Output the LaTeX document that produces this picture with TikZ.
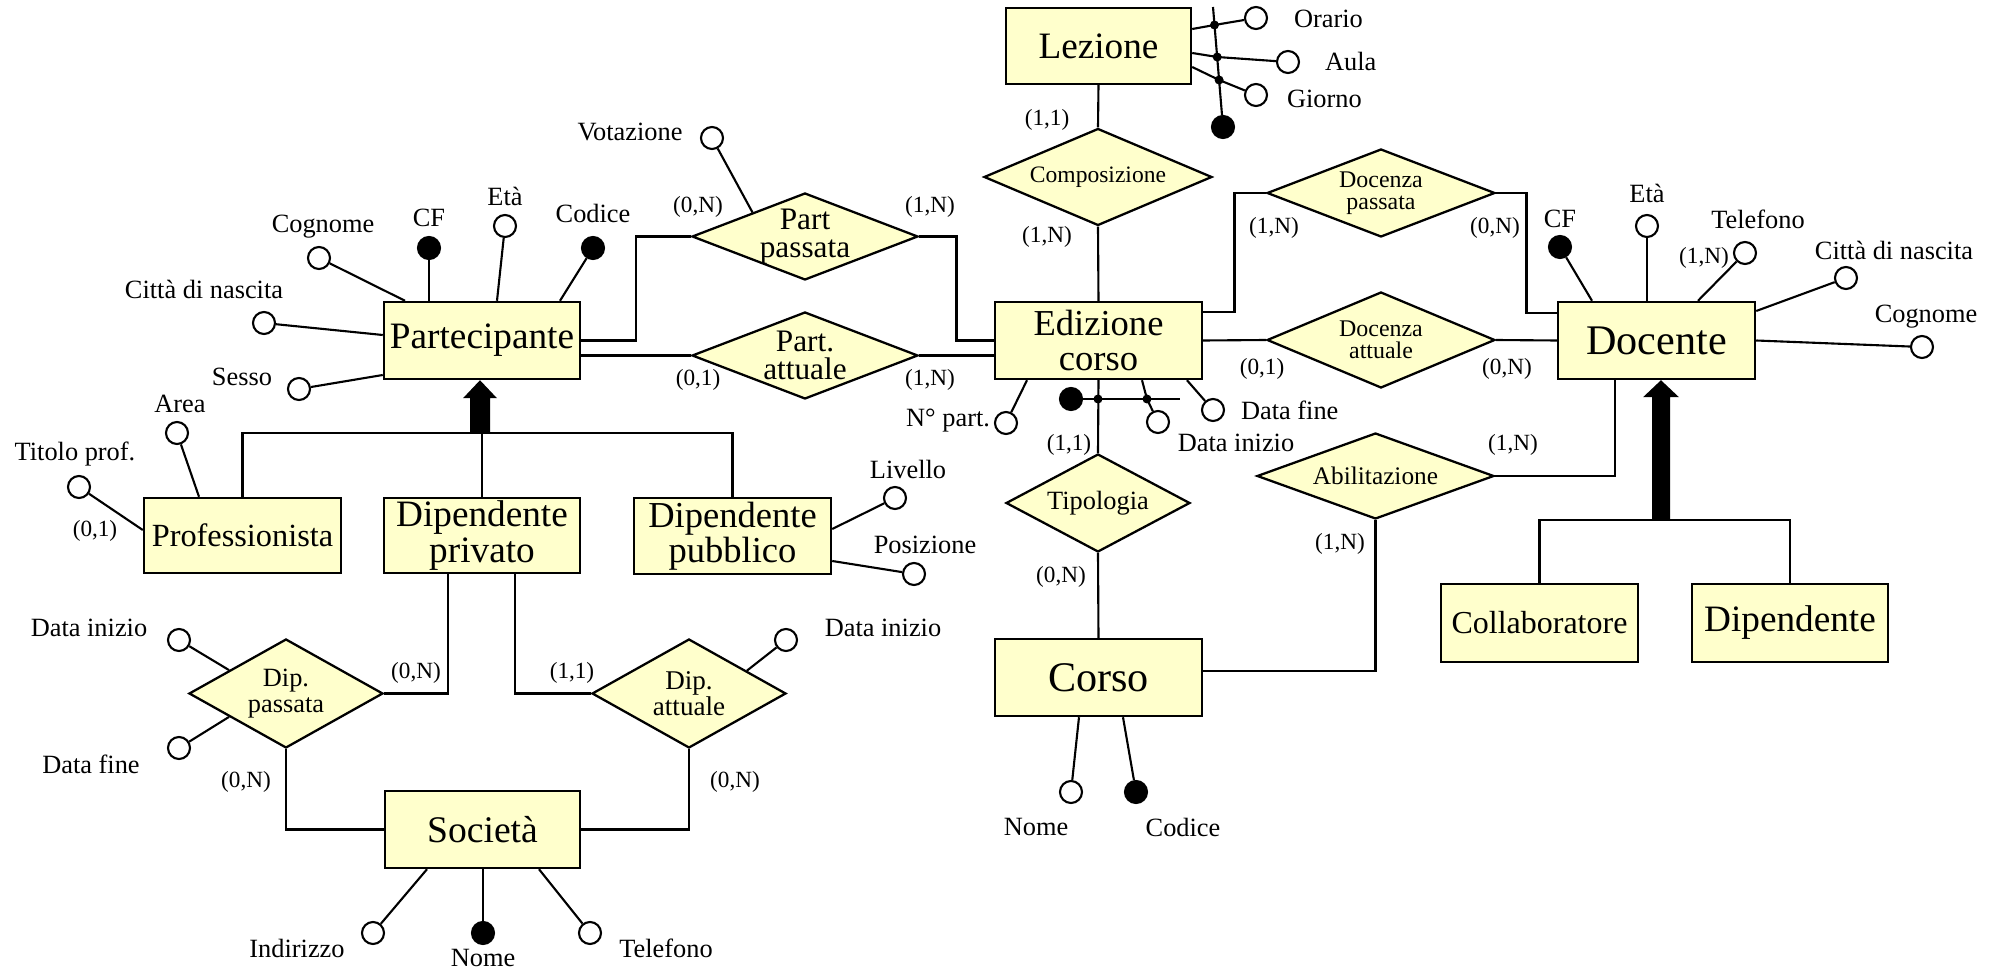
\documentclass[tikz,border=0pt]{standalone}
\usepackage{fontspec}
\setmainfont{Liberation Serif}
\usetikzlibrary{shapes.geometric,calc}
\definecolor{erfill}{HTML}{FFFFCC}
\newcommand\fsz[1]{\fontsize{#1}{#1}\selectfont}
\newcommand\fszz[2]{\fontsize{#1}{#2}\selectfont}

\tikzset{
  ent/.style={draw, fill=erfill, line width=0.7pt, inner sep=0pt, align=center},
  rel/.style={diamond, draw, fill=erfill, line width=0.65pt, inner sep=0pt},
  rtext/.style={inner sep=0pt, align=center},
  att/.style={circle, draw, fill=white, line width=0.6pt, minimum size=2.2mm, inner sep=0pt},
  katt/.style={att, fill=black},
  jdot/.style={circle, fill=black, minimum size=0.9mm, inner sep=0pt},
  lbl/.style={inner sep=0pt, font=\fszz{7.5}{9}},
  card/.style={inner sep=0pt, font=\fszz{6.6}{8}},
}

\begin{document}
\begin{tikzpicture}[x=0.1mm, y=-0.1mm, line width=0.6pt]
\fill[white] (0,0) rectangle (2000,972);
\useasboundingbox (0,0) rectangle (2000,972);

% ---------- entities ----------
\node[ent, minimum width=18.5mm, minimum height=7.6mm, font=\fsz{10.6}] (lez) at (1098.5,46) {Lezione};
\node[ent, minimum width=20.7mm, minimum height=7.7mm, font=\fszz{10.4}{9.8}] (ed) at (1098.5,340.5) {Edizione\\corso};
\node[ent, minimum width=20.7mm, minimum height=7.7mm, font=\fsz{12}] (corso) at (1098.5,677.5) {Corso};
\node[ent, minimum width=19.7mm, minimum height=7.7mm, font=\fsz{12}] (doc) at (1656.5,340.5) {Docente};
\node[ent, minimum width=19.6mm, minimum height=7.7mm, font=\fsz{10.6}] (part) at (482,340.5) {Partecipante};
\node[ent, minimum width=19.7mm, minimum height=7.5mm, font=\fsz{9.2}] (prof) at (242.5,535.5) {Professionista};
\node[ent, minimum width=19.6mm, minimum height=7.5mm, font=\fszz{10.6}{10}] (dpriv) at (482,535.5) {Dipendente\\privato};
\node[ent, minimum width=19.7mm, minimum height=7.6mm, font=\fszz{10.4}{10}] (dpub) at (732.5,536) {Dipendente\\pubblico};
\node[ent, minimum width=19.5mm, minimum height=7.7mm, font=\fsz{10.7}] (soc) at (482.5,829.5) {Società};
\node[ent, minimum width=19.7mm, minimum height=7.8mm, font=\fsz{9.1}] (coll) at (1539.5,623) {Collaboratore};
\node[ent, minimum width=19.6mm, minimum height=7.8mm, font=\fsz{10.6}] (dipe) at (1790,623) {Dipendente};

% ---------- relationships ----------
\node[rel, minimum width=22.8mm, minimum height=9.7mm] (comp) at (1098,177) {};
\node[rtext, font=\fsz{6.7}] at (comp) {Composizione};
\node[rel, minimum width=22.6mm, minimum height=8.7mm] (pp) at (805,236.5) {};
\node[rtext, font=\fszz{8.9}{8.2}] at (pp) {Part\\passata};
\node[rel, minimum width=22.6mm, minimum height=8.7mm] (pa) at (805,355.5) {};
\node[rtext, font=\fszz{8.9}{8.2}] at (pa) {Part.\\attuale};
\node[rel, minimum width=22.8mm, minimum height=8.8mm] (dp) at (1381,193) {};
\node[rtext, font=\fszz{6.8}{6.4}] at (dp) {Docenza\\passata};
\node[rel, minimum width=22.8mm, minimum height=9.6mm] (da) at (1381,340) {};
\node[rtext, font=\fszz{6.8}{6.4}] at (da) {Docenza\\attuale};
\node[rel, minimum width=18.4mm, minimum height=9.8mm] (tip) at (1098,503) {};
\node[rtext, font=\fsz{7.5}] at (tip) {Tipologia};
\node[rel, minimum width=23.7mm, minimum height=8.6mm] (abil) at (1375.5,476) {};
\node[rtext, font=\fsz{7.2}] at (abil) {Abilitazione};
\node[rel, minimum width=19.4mm, minimum height=10.9mm] (dipp) at (286,693.5) {};
\node[rtext, font=\fszz{7.5}{7.2}] at (dipp) {Dip.\\passata};
\node[rel, minimum width=19.4mm, minimum height=10.9mm] (dipa) at (689,693.5) {};
\node[rtext, font=\fszz{7.7}{7.3}] at (dipa) {Dip.\\attuale};

% ---------- relationship connectors ----------
\draw (lez.south) -- (comp.north);
\draw (comp.south) -- (ed.north);
\draw (ed.south) -- (tip.north);
\draw (tip.south) -- (corso.north);
\draw (pp.west) -| ($(part.east)!.5!(pp.west)$) |- (part.east);
\draw (pa.west) -- (pa.west -| part.east);
\draw (pp.east) -| ($(pp.east)!.5!(ed.west)$) |- (ed.west);
\draw (pa.east) -- (pa.east -| ed.west);
\draw (dp.west) -| ($(dp.west)!.5!(ed.east)$) |- ([yshift=2.85mm]ed.east);
\draw (ed.east) -- (da.west);
\draw (dp.east) -| ($(dp.east)!.5!(doc.west)$) |- ([yshift=2.75mm]doc.west);
\draw (da.east) -- (doc.west);
\draw (abil.east) -| ([xshift=-4.15mm]doc.south);
\draw (abil.south) |- ([yshift=0.65mm]corso.east);
\draw ([xshift=-3.4mm]dpriv.south) |- (dipp.east);
\draw ([xshift=3.3mm]dpriv.south) |- (dipa.west);
\draw (dipp.south) |- (soc.west);
\draw (dipa.south) |- (soc.east);

% ---------- generalisations ----------
\coordinate (isaP) at (480,433);
\coordinate (isaPtip) at (isaP |- part.south);
\draw (prof.north) -- (prof.north |- isaP) -- (dpub.north |- isaP) -- (dpub.north);
\draw (dpriv.north) -- (dpriv.north |- isaP);
\fill (isaPtip) -- ([shift={(1.7mm,-1.8mm)}]isaPtip) -- ([shift={(1mm,-1.8mm)}]isaPtip)
  -- ([xshift=1mm]isaP) -- ([xshift=-1mm]isaP) -- ([shift={(-1mm,-1.8mm)}]isaPtip)
  -- ([shift={(-1.7mm,-1.8mm)}]isaPtip) -- cycle;

\coordinate (isaD) at (1661,520);
\coordinate (isaDtip) at (isaD |- doc.south);
\draw (coll.north) -- (coll.north |- isaD) -- (dipe.north |- isaD) -- (dipe.north);
\fill (isaDtip) -- ([shift={(1.8mm,-1.7mm)}]isaDtip) -- ([shift={(0.9mm,-1.7mm)}]isaDtip)
  -- ([xshift=0.9mm]isaD) -- ([xshift=-0.9mm]isaD) -- ([shift={(-0.9mm,-1.7mm)}]isaDtip)
  -- ([shift={(-1.8mm,-1.7mm)}]isaDtip) -- cycle;

% ---------- Lezione attributes ----------
\node[att] (orario) at (1256,18) {};
\node[att] (aula) at (1288,62) {};
\node[att] (giorno) at (1256,95) {};
\node[katt] (lezK) at (1223,127) {};
\coordinate (lzTop) at (1213,7);
\node[jdot] (ld1) at (1214.5,25) {};
\node[jdot] (ld2) at (1217.2,57) {};
\node[jdot] (ld3) at (1219.1,80) {};
\draw (lzTop) -- (lezK);
\draw ([yshift=1.7mm]lez.east) -- (ld1.center) -- (orario);
\draw ([yshift=-0.7mm]lez.east) -- (ld2.center) -- (aula);
\draw ([yshift=-2.1mm]lez.east) -- (ld3.center) -- (giorno);
\node[lbl, anchor=west] at (1293,19) {Orario};
\node[lbl, anchor=west] at (1324,61) {Aula};
\node[lbl, anchor=west] at (1286,99) {Giorno};

% ---------- Edizione corso attributes ----------
\node[att] (npart) at (1006,423) {};
\node[katt] (edK) at (1071,399) {};
\node[jdot] (ed1) at (1098,399) {};
\node[jdot] (ed2) at (1147,399) {};
\coordinate (edE) at (1180,399);
\node[att] (edDi) at (1158,422) {};
\node[att] (edDf) at (1213,410) {};
\draw (edK) -- (edE);
\draw ([xshift=-7.15mm]ed.south) -- (npart);
\draw ([xshift=4.35mm]ed.south) -- (ed2.center) -- (edDi);
\draw ([xshift=8.85mm]ed.south) -- (edDf);
\node[lbl, anchor=east] at (991,421) {N° part.};
\node[lbl] at (1236,443) {Data inizio};
\node[lbl, anchor=west] at (1240,410) {Data fine};

% ---------- Corso attributes ----------
\node[att] (cNome) at (1071,792) {};
\node[katt] (cCod) at (1136,792) {};
\draw ([xshift=-1.95mm]corso.south) -- (cNome);
\draw ([xshift=2.45mm]corso.south) -- (cCod);
\node[lbl] at (1036,827) {Nome};
\node[lbl] at (1183,827) {Codice};

% ---------- Docente attributes ----------
\node[katt] (docCF) at (1560,247) {};
\node[att] (docEta) at (1647,226) {};
\node[att] (docTel) at (1745,253) {};
\node[att] (docCitta) at (1846,278) {};
\node[att] (docCogn) at (1922,347) {};
\draw (docCF) -- ([xshift=-6.45mm]doc.north);
\draw (docEta) -- (docEta |- doc.north);
\draw (docTel) -- ([xshift=4.15mm]doc.north);
\draw (docCitta) -- ([yshift=2.95mm]doc.east);
\draw (docCogn) -- (doc.east);
\node[lbl] at (1560,219) {CF};
\node[lbl] at (1647,193) {Età};
\node[lbl] at (1758,219) {Telefono};
\node[lbl] at (1894,250) {Città di nascita};
\node[lbl] at (1926,317) {Cognome};

% ---------- Partecipante attributes ----------
\node[katt] (pCF) at (429,248) {};
\node[att] (pEta) at (505,226) {};
\node[katt] (pCod) at (593,248) {};
\node[att] (pCogn) at (319,258) {};
\node[att] (pCitta) at (264,323) {};
\node[att] (pSesso) at (299,389) {};
\draw (pCF) -- (pCF |- part.north);
\draw (pEta) -- ([xshift=1.5mm]part.north);
\draw (pCod) -- ([xshift=7.8mm]part.north);
\draw (pCogn) -- ([xshift=-7.7mm]part.north);
\draw (pCitta) -- ([yshift=0.55mm]part.west);
\draw (pSesso) -- ([yshift=-3.45mm]part.west);
\node[lbl] at (429,218) {CF};
\node[lbl] at (505,196) {Età};
\node[lbl] at (593,213) {Codice};
\node[lbl] at (323,227) {Cognome};
\node[lbl] at (204,289) {Città di nascita};
\node[lbl] at (242,377) {Sesso};

% ---------- Part passata attribute ----------
\node[att] (vot) at (712,138) {};
\draw (vot) -- ($(pp.north)!0.46!(pp.west)$);
\node[lbl] at (630,132) {Votazione};

% ---------- Professionista attributes ----------
\node[att] (area) at (177,433) {};
\node[att] (titolo) at (79,487) {};
\draw (area) -- ([xshift=-4.35mm]prof.north);
\draw (titolo) -- ([yshift=0.55mm]prof.west);
\node[lbl] at (180,404) {Area};
\node[lbl] at (75,454) {Titolo prof.};

% ---------- Dipendente pubblico attributes ----------
\node[att] (liv) at (895,498) {};
\node[att] (posz) at (914,574) {};
\draw (liv) -- ([yshift=0.7mm]dpub.east);
\draw (posz) -- ([yshift=-2.5mm]dpub.east);
\node[lbl] at (908,469) {Livello};
\node[lbl] at (925,545) {Posizione};

% ---------- Dip. passata / Dip. attuale attributes ----------
\node[att] (dpDi) at (179,640) {};
\node[att] (dpDf) at (179,748) {};
\node[att] (daDi) at (786,640) {};
\draw (dpDi) -- ($(dipp.west)!0.42!(dipp.north)$);
\draw (dpDf) -- ($(dipp.west)!0.42!(dipp.south)$);
\draw (daDi) -- ($(dipa.east)!0.41!(dipa.north)$);
\node[lbl] at (89,628) {Data inizio};
\node[lbl] at (91,764) {Data fine};
\node[lbl] at (883,628) {Data inizio};

% ---------- Società attributes ----------
\node[att] (sInd) at (373,933) {};
\node[katt] (sNome) at (483,933) {};
\node[att] (sTel) at (590,933) {};
\draw (sInd) -- ([xshift=-5.55mm]soc.south);
\draw (sNome) -- (sNome |- soc.south);
\draw (sTel) -- ([xshift=5.65mm]soc.south);
\node[lbl] at (297,948) {Indirizzo};
\node[lbl] at (483,958) {Nome};
\node[lbl] at (666,948) {Telefono};

% ---------- cardinalities ----------
\node[card] at (1047,120) {(1,1)};
\node[card] at (1047,237) {(1,N)};
\node[card] at (698,207) {(0,N)};
\node[card] at (930,207) {(1,N)};
\node[card] at (698,380) {(0,1)};
\node[card] at (930,380) {(1,N)};
\node[card] at (1274,228) {(1,N)};
\node[card] at (1495,228) {(0,N)};
\node[card] at (1262,369) {(0,1)};
\node[card] at (1507,369) {(0,N)};
\node[card] at (1069,445) {(1,1)};
\node[card] at (1061,577) {(0,N)};
\node[card] at (1513,445) {(1,N)};
\node[card] at (1340,544) {(1,N)};
\node[card] at (416,673) {(0,N)};
\node[card] at (572,673) {(1,1)};
\node[card] at (246,782) {(0,N)};
\node[card] at (735,782) {(0,N)};
\node[card] at (95,531) {(0,1)};
\node[card] at (1704,258) {(1,N)};
\end{tikzpicture}
\end{document}
